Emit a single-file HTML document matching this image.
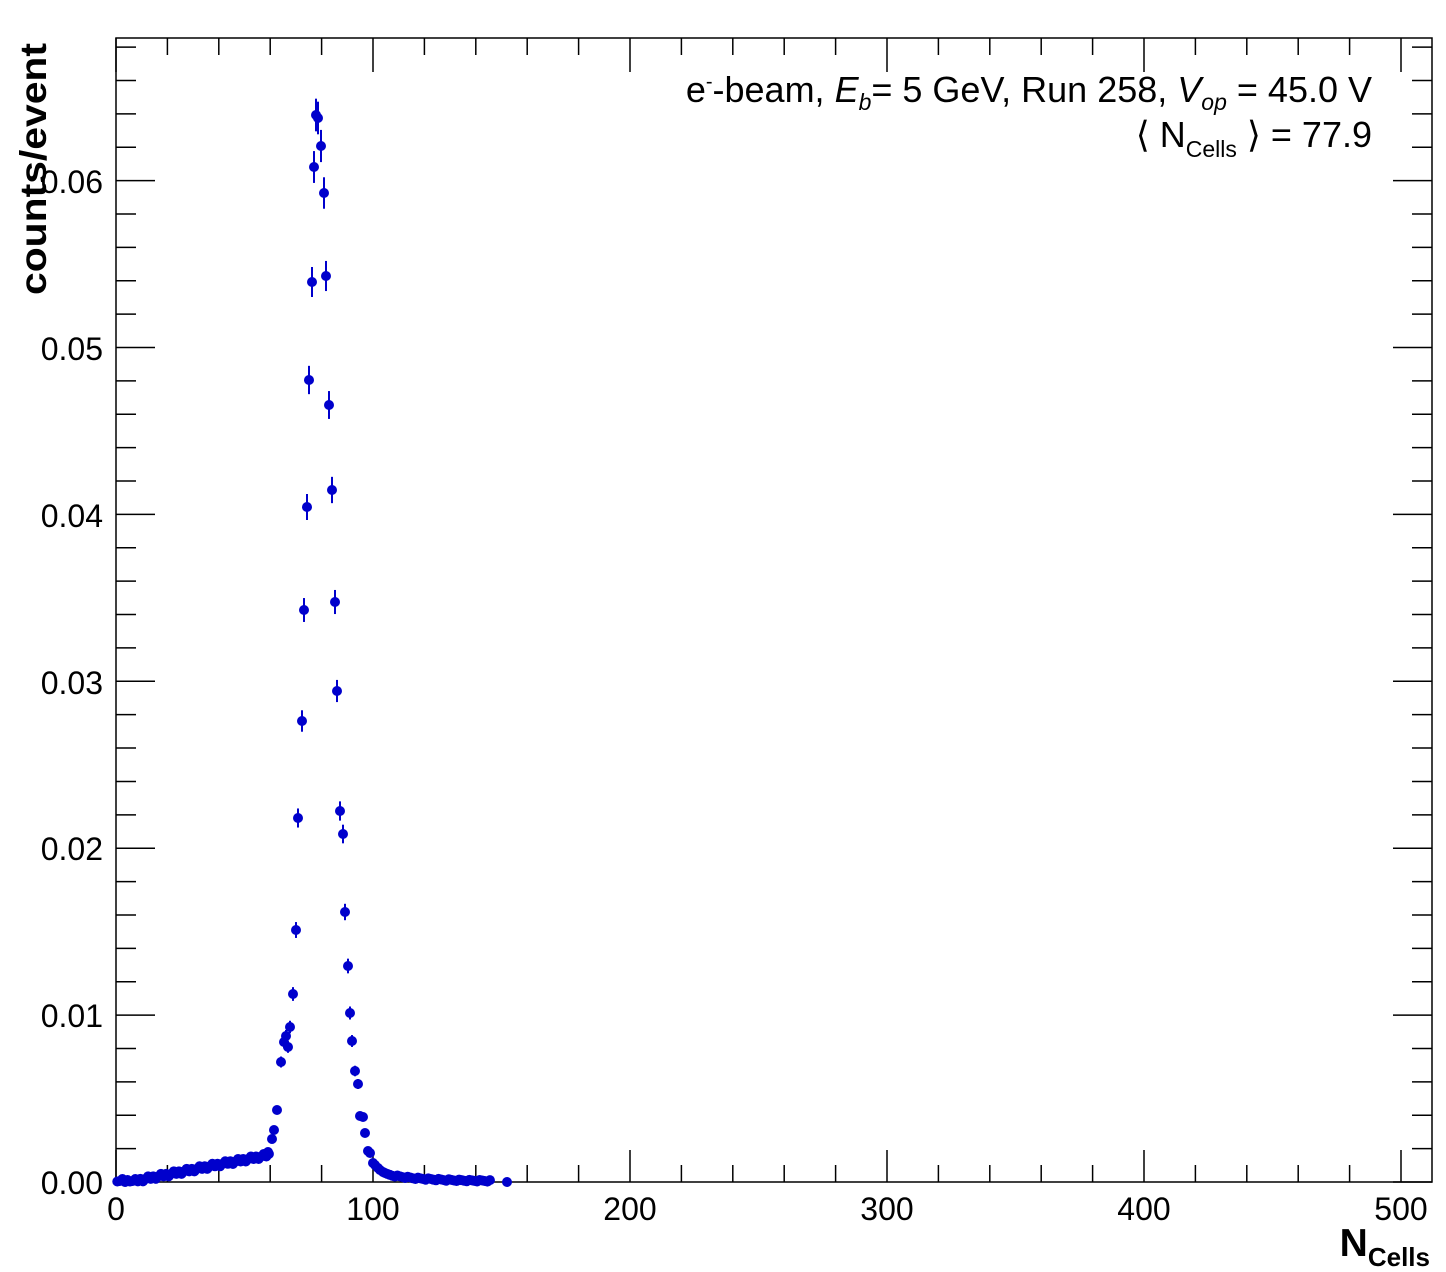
<!DOCTYPE html>
<html><head><meta charset="utf-8"><style>body{margin:0;background:#fff}svg{display:block}text{font-family:"Liberation Sans",sans-serif}</style></head>
<body>
<svg id="s" width="1446" height="1272" xmlns="http://www.w3.org/2000/svg">
<rect x="116" y="38" width="1316" height="1144" fill="none" stroke="#000" stroke-width="1.5"/>
<g id="ax" stroke="#000" stroke-width="1.5"></g>
<g id="dat"></g>
<g font-size="32" fill="#000" text-anchor="end">
<text x="103" y="1194">0.00</text><text x="103" y="1027">0.01</text><text x="103" y="860">0.02</text><text x="103" y="694">0.03</text><text x="103" y="527">0.04</text><text x="103" y="360">0.05</text><text x="103" y="193">0.06</text>
</g>
<g font-size="32" fill="#000" text-anchor="middle">
<text x="116" y="1220">0</text><text x="373" y="1220">100</text><text x="630" y="1220">200</text><text x="887" y="1220">300</text><text x="1144" y="1220">400</text><text x="1401" y="1220">500</text>
</g>
<text x="1430" y="1256" font-size="39" font-weight="bold" text-anchor="end">N<tspan font-size="26" dy="10">Cells</tspan></text>
<text transform="translate(46,295) rotate(-90)" font-size="37" font-weight="bold" textLength="252" lengthAdjust="spacingAndGlyphs">counts/event</text>
<text x="1372" y="102" font-size="36" text-anchor="end">e<tspan font-size="20" dy="-14">-</tspan><tspan dy="14">-beam, </tspan><tspan font-style="italic">E</tspan><tspan font-style="italic" font-size="23" dy="8">b</tspan><tspan dy="-8">= 5 GeV, Run 258, </tspan><tspan font-style="italic">V</tspan><tspan font-style="italic" font-size="23" dy="8">op</tspan><tspan dy="-8"> = 45.0 V</tspan></text>
<text x="1372" y="147" font-size="36" text-anchor="end">⟨ N<tspan font-size="23" dy="10">Cells</tspan><tspan dy="-10"> ⟩ = 77.9</tspan></text>
</svg>
<script>
var ax=document.getElementById('ax'),h='';
function L(a,b,c,d){h+='<line x1="'+a+'" y1="'+b+'" x2="'+c+'" y2="'+d+'"/>';}
for(var i=0;i<=34;i++){var y=1182-i*33.38;if(y<38)break;var m=(i%5==0);L(116,y,m?155:136,y);L(1432,y,m?1393:1412,y);}
for(var v=0;v<=510;v+=20){var x=116+v*2.57;var m=(v%100==0);L(x,1182,x,m?1150:1165);L(x,38,x,m?72:55);}
ax.innerHTML=h;
var pts=[];
for(var n=0;n<60;n++){var v;if(n<8)v=0.00006;else if(n<45)v=0.0001+(n-8)*0.00003;else v=0.0012+(n-45)*0.00003;v+=((n*7)%5-2)*0.00006;if(v<0)v=0.00003;pts.push([116+2.57*(n+0.5),1182-v*16690]);}
var pk=[[268,1152],[272,1139],[274,1130],[277,1110],[281,1062],[284,1042],[286,1036],[288,1047],[290,1027],[293,994],[296,930],[298,818],[302,721],[304,610],[307,507],[309,380],[312,282],[314,167],[316,115],[318,118],[321,146],[324,193],[326,276],[329,405],[332,490],[335,602],[337,691],[340,811],[343,834],[345,912],[348,966],[350,1013],[352,1041],[355,1071],[358,1084],[360,1116],[363,1117],[365,1133],[368,1151],[370,1153],[373,1163],[375,1165],[378,1168],[380,1170],[383,1172],[385,1173]];
pts=pts.concat(pk);
for(var n=105;n<146;n++){var v=0.0004*Math.exp(-(n-105)/14)+((n*3)%4)*0.00003;pts.push([116+2.57*(n+0.5),1182-v*16690]);}
pts.push([507,1182]);
var d='';
pts.forEach(function(p){var hh=1182-p[1];var e=0.5*Math.sqrt(Math.max(hh,0));if(e>1)d+='<line x1="'+p[0]+'" y1="'+(p[1]-e)+'" x2="'+p[0]+'" y2="'+(p[1]+e)+'" stroke="#0000cc" stroke-width="2"/>';d+='<circle cx="'+p[0]+'" cy="'+p[1]+'" r="5" fill="#0000cc"/>';});
document.getElementById('dat').innerHTML=d;
</script>
</body></html>
